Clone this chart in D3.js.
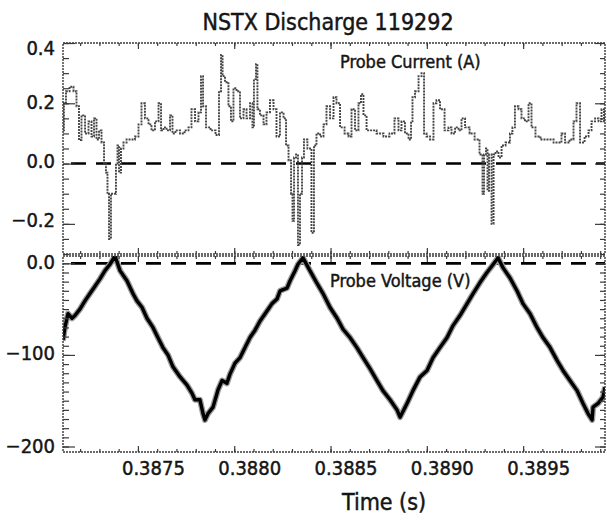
<!DOCTYPE html>
<html>
<head>
<meta charset="utf-8">
<script src="https://cdn.jsdelivr.net/npm/d3@7"></script>
<style>
  html, body { margin: 0; padding: 0; background: #fff; }
  svg { display: block; }
  text { font-family: "DejaVu Sans Condensed", "DejaVu Sans", sans-serif; font-stretch: condensed; fill: #151515; stroke: #151515; stroke-width: 0.45px; }
</style>
</head>
<body>
<svg id="chart" width="607" height="521"></svg>
<script>
// ---------- data ----------
const timeCurrent = [
  0.387111,0.387121,0.387132,0.387158,0.387173,0.387189,0.387199,0.387215,0.387236,0.387251,
  0.387267,0.387277,0.387293,0.387303,0.387319,0.387329,0.387339,0.387345,0.387355,0.387365,
  0.387381,0.387391,0.387397,0.387407,0.387417,0.387433,0.387449,0.387474,0.387495,0.387511,
  0.387526,0.387547,0.387563,0.387578,0.387599,0.387615,0.387625,0.387641,0.387656,0.387677,
  0.387682,0.387708,0.387729,0.387755,0.387770,0.387786,0.387807,0.387822,0.387833,0.387843,
  0.387864,0.387890,0.387916,0.387926,0.387937,0.387942,0.387962,0.387978,0.387988,0.388004,
  0.388020,0.388040,0.388056,0.388072,0.388092,0.388097,0.388108,0.388118,0.388123,0.388144,
  0.388160,0.388175,0.388196,0.388212,0.388227,0.388248,0.388264,0.388274,0.388290,0.388300,
  0.388305,0.388316,0.388326,0.388336,0.388347,0.388357,0.388367,0.388393,0.388409,0.388419,
  0.388435,0.388456,0.388471,0.388487,0.388508,0.388523,0.388539,0.388560,0.388586,0.388601,
  0.388617,0.388637,0.388653,0.388663,0.388679,0.388695,0.388721,0.388757,0.388793,0.388819,
  0.388845,0.388861,0.388876,0.388897,0.388913,0.388923,0.388928,0.388949,0.388965,0.388980,
  0.388991,0.389006,0.389027,0.389042,0.389058,0.389079,0.389105,0.389120,0.389136,0.389157,
  0.389172,0.389188,0.389209,0.389235,0.389261,0.389286,0.389292,0.389302,0.389312,0.389318,
  0.389328,0.389344,0.389349,0.389364,0.389380,0.389396,0.389421,0.389442,0.389447,0.389468,
  0.389484,0.389499,0.389520,0.389536,0.389551,0.389577,0.389603,0.389640,0.389676,0.389691,
  0.389707,0.389728,0.389754,0.389769,0.389785,0.389806,0.389832,0.389847,0.389863,0.389884,
  0.389899,0.389915,0.389925
];
const current = [
  0.11,0.20,0.24,0.255,0.24,0.19,0.078,0.16,0.10,0.14,
  0.09,0.15,0.08,0.11,0.07,0.00,-0.03,-0.10,-0.25,-0.10,
  -0.10,0.00,0.06,-0.03,0.05,0.07,0.08,0.08,0.09,0.13,
  0.20,0.15,0.13,0.11,0.14,0.20,0.11,0.12,0.11,0.16,
  0.10,0.11,0.10,0.11,0.12,0.18,0.14,0.17,0.29,0.19,
  0.12,0.11,0.095,0.24,0.36,0.29,0.27,0.19,0.14,0.25,
  0.24,0.15,0.18,0.15,0.20,0.12,0.28,0.33,0.18,0.16,
  0.13,0.17,0.21,0.18,0.09,0.17,0.15,0.06,0.01,-0.10,
  -0.19,0.02,0.03,-0.27,-0.10,0.02,0.08,0.05,-0.23,0.06,
  0.10,0.09,0.13,0.19,0.15,0.22,0.20,0.12,0.10,0.09,
  0.18,0.11,0.20,0.23,0.16,0.11,0.11,0.10,0.09,0.10,
  0.15,0.11,0.14,0.10,0.08,0.14,0.22,0.24,0.29,0.30,
  0.10,0.09,0.08,0.20,0.21,0.18,0.11,0.12,0.10,0.12,
  0.11,0.15,0.12,0.10,0.08,0.03,-0.10,0.03,0.05,-0.09,
  0.03,-0.20,0.03,0.04,0.02,0.06,0.07,0.10,0.12,0.19,
  0.18,0.15,0.14,0.20,0.12,0.09,0.08,0.08,0.07,0.07,
  0.10,0.07,0.08,0.14,0.20,0.07,0.09,0.11,0.14,0.15,
  0.14,0.18,0.14
];
const timeVoltage = [
  0.387111,0.387121,0.387137,0.387158,0.387173,0.387199,0.387225,0.387251,0.387277,0.387303,
  0.387329,0.387355,0.387381,0.387407,0.387443,0.387474,0.387495,0.387521,0.387547,0.387578,
  0.387599,0.387630,0.387656,0.387682,0.387719,0.387755,0.387781,0.387796,0.387822,0.387838,
  0.387848,0.387864,0.387890,0.387916,0.387937,0.387962,0.387978,0.388004,0.388030,0.388056,
  0.388082,0.388108,0.388134,0.388170,0.388196,0.388222,0.388238,0.388274,0.388290,0.388316,
  0.388331,0.388357,0.388393,0.388430,0.388461,0.388497,0.388534,0.388565,0.388601,0.388637,
  0.388669,0.388705,0.388741,0.388772,0.388809,0.388845,0.388861,0.388897,0.388928,0.388965,
  0.389001,0.389032,0.389068,0.389105,0.389136,0.389172,0.389209,0.389240,0.389276,0.389312,
  0.389338,0.389370,0.389396,0.389432,0.389468,0.389499,0.389536,0.389572,0.389603,0.389640,
  0.389676,0.389707,0.389743,0.389780,0.389811,0.389837,0.389858,0.389863,0.389889,0.389915,
  0.389925
];
const voltage = [
  -84,-70,-55,-60,-57,-50,-41,-33,-25,-17,
  -8,-1,8,-8,-19,-33,-41,-48,-60,-70,
  -79,-92,-100,-113,-124,-133,-142,-149,-149,-164,
  -171,-164,-157,-138,-128,-131,-121,-109,-103,-92,
  -81,-73,-63,-52,-44,-39,-30,-27,-19,-8,
  -1,6,-8,-22,-33,-48,-60,-72,-81,-92,
  -103,-115,-128,-139,-149,-160,-168,-153,-139,-124,
  -117,-103,-92,-81,-68,-57,-44,-33,-21,-10,
  -3,6,-5,-16,-30,-44,-55,-70,-81,-92,
  -106,-117,-128,-139,-153,-164,-171,-157,-153,-146,
  -135
];
const timeTicks = [0.3875, 0.3880, 0.3885, 0.3890, 0.3895];
const timeTickLabels = ["0.3875", "0.3880", "0.3885", "0.3890", "0.3895"];
const currentTicks = [0.4, 0.2, 0.0, -0.2];
const currentTickLabels = ["0.4", "0.2", "0.0", "\u22120.2"];
const voltageTicks = [0, -100, -200];
const voltageTickLabels = ["0.0", "\u2212100", "\u2212200"];
const titleText = "NSTX Discharge 119292";
const xTitleText = "Time (s)";
const currentLabel = "Probe Current (A)";
const voltageLabel = "Probe Voltage (V)";

// ---------- layout ----------
const svg = d3.select("#chart");
const L = 63, R = 605;
const top1 = 43, bot1 = 254, top2 = 256, bot2 = 452;

const x = d3.scaleLinear().domain([0.387111, 0.389925]).range([L, R]);
const yC = d3.scaleLinear().domain([-0.3, 0.4]).range([bot1, top1]);
const yV = d3.scaleLinear().domain([-206, 8]).range([bot2, top2]);

const minorTime = d3.range(3872, 3900).map(d => d / 10000).filter(d => d >= x.domain()[0] && d <= x.domain()[1]);
const minorCur = d3.range(-6, 9).map(d => d * 0.05);
const minorVolt = d3.range(-20, 1).map(d => d * 10);

const frameStyle = g => g.selectAll("path.domain").remove();
const tickStyle = g => g.selectAll(".tick line").attr("stroke", "#3a3a3a").attr("stroke-width", 1.2);

function xAxes(yPos, orient, labels) {
  const mk = orient === "top" ? d3.axisTop : d3.axisBottom;
  const gMin = svg.append("g").attr("transform", `translate(0,${yPos})`)
    .call(mk(x).tickValues(minorTime).tickSize(-3).tickFormat(""));
  gMin.call(frameStyle).call(tickStyle);
  const ax = mk(x).tickValues(timeTicks).tickSize(-6);
  if (labels) ax.tickFormat((d, i) => timeTickLabels[i]).tickPadding(9);
  else ax.tickFormat("");
  const g = svg.append("g").attr("transform", `translate(0,${yPos})`).call(ax);
  g.call(frameStyle).call(tickStyle);
  if (labels) {
    g.selectAll(".tick text").attr("font-size", 20).attr("dx", 15)
      .attr("font-family", null).style("fill", "#151515");
  }
}

function yAxes(scale, major, majorLabels, minor, labelDy) {
  const gl = svg.append("g").attr("transform", `translate(${L},0)`)
    .call(d3.axisLeft(scale).tickValues(minor).tickSize(-6).tickFormat(""));
  gl.call(frameStyle).call(tickStyle);
  const gL = svg.append("g").attr("transform", `translate(${L},0)`)
    .call(d3.axisLeft(scale).tickValues(major).tickSize(-12).tickPadding(8)
      .tickFormat((d, i) => majorLabels[i]));
  gL.call(frameStyle).call(tickStyle);
  gL.selectAll(".tick text").attr("font-size", 20).attr("font-family", null)
    .attr("y", (d, i) => labelDy[i]).style("fill", "#151515");
  const gr = svg.append("g").attr("transform", `translate(${R},0)`)
    .call(d3.axisRight(scale).tickValues(minor).tickSize(-5).tickFormat(""));
  gr.call(frameStyle).call(tickStyle);
  const gR = svg.append("g").attr("transform", `translate(${R},0)`)
    .call(d3.axisRight(scale).tickValues(major).tickSize(-10).tickFormat(""));
  gR.call(frameStyle).call(tickStyle);
}

// clip paths
const defs = svg.append("defs");
defs.append("clipPath").attr("id", "c1").append("rect")
  .attr("x", L).attr("y", top1).attr("width", R - L).attr("height", bot1 - top1);
defs.append("clipPath").attr("id", "c2").append("rect")
  .attr("x", L).attr("y", top2).attr("width", R - L).attr("height", bot2 - top2);

// zero dashed lines
svg.append("line").attr("x1", L).attr("x2", R).attr("y1", yC(0)).attr("y2", yC(0))
  .attr("stroke", "#000").attr("stroke-width", 2.6).attr("stroke-dasharray", "15,10")
  .attr("stroke-dashoffset", -8);
svg.append("line").attr("x1", L).attr("x2", R).attr("y1", yV(0)).attr("y2", yV(0))
  .attr("stroke", "#000").attr("stroke-width", 2.6).attr("stroke-dasharray", "15,10")
  .attr("stroke-dashoffset", -8);

// current trace
const curLine = d3.line().x((d, i) => x(timeCurrent[i])).y(d => yC(d)).curve(d3.curveStep);
svg.append("path").attr("clip-path", "url(#c1)").datum(current)
  .attr("d", curLine).attr("fill", "none").attr("stroke", "#454545")
  .attr("stroke-width", 1.9).attr("stroke-dasharray", "2,1");

// voltage trace
const voltLine = d3.line().x((d, i) => x(timeVoltage[i])).y(d => yV(d));
svg.append("path").attr("clip-path", "url(#c2)").datum(voltage)
  .attr("d", voltLine).attr("fill", "none").attr("stroke", "#9a9a9a")
  .attr("stroke-width", 6).attr("stroke-linejoin", "round");
svg.append("path").attr("clip-path", "url(#c2)").datum(voltage)
  .attr("d", voltLine).attr("fill", "none").attr("stroke", "#000")
  .attr("stroke-width", 3.4).attr("stroke-linejoin", "round");

// frames
[[top1, bot1], [top2, bot2]].forEach(([t, b]) => {
  svg.append("rect").attr("x", L).attr("y", t).attr("width", R - L).attr("height", b - t)
    .attr("fill", "none").attr("stroke", "#3a3a3a").attr("stroke-width", 1.4)
    .attr("stroke-dasharray", "2,1");
});

// axes
xAxes(top1, "top", false);
xAxes(bot1, "bottom", false);
xAxes(top2, "top", false);
xAxes(bot2, "bottom", true);
yAxes(yC, currentTicks, currentTickLabels, minorCur, [5, -1, -2, -4]);
yAxes(yV, voltageTicks, voltageTickLabels, minorVolt, [-1, -2, 0]);

// texts
svg.append("text").attr("x", 328).attr("y", 30).attr("text-anchor", "middle")
  .attr("font-size", 23).text(titleText);
svg.append("text").attr("x", 384).attr("y", 510).attr("text-anchor", "middle")
  .attr("font-size", 23).text(xTitleText);
svg.append("text").attr("x", 340).attr("y", 68).attr("font-size", 18).text(currentLabel);
svg.append("text").attr("x", 330).attr("y", 287).attr("font-size", 18).text(voltageLabel);
</script>
</body>
</html>
